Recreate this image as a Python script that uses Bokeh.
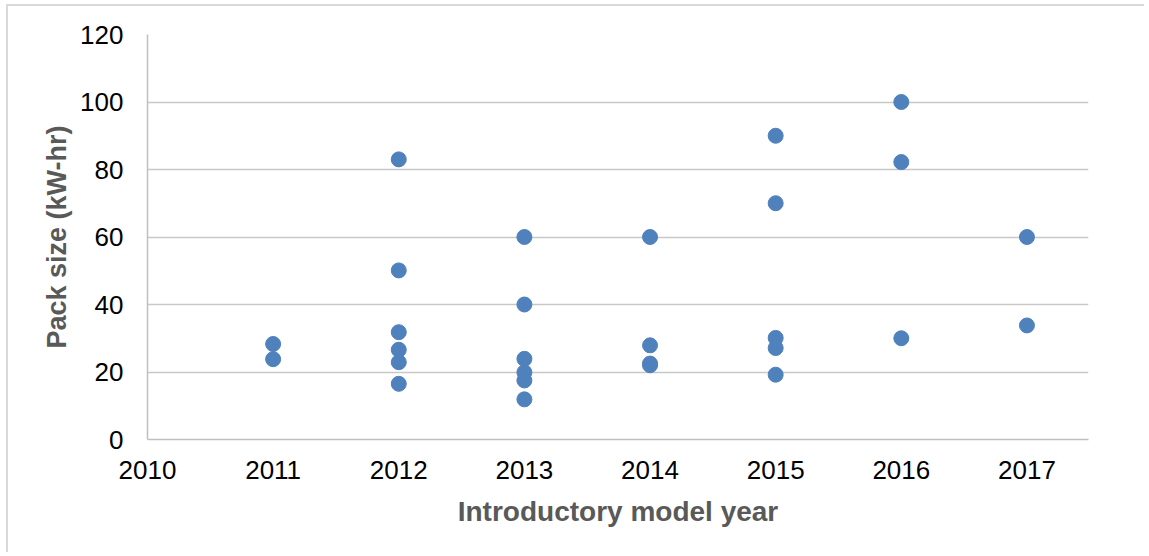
from bokeh.plotting import figure
from bokeh.models import ColumnDataSource, FixedTicker, Range1d
from bokeh.embed import file_html
from bokeh.resources import INLINE

years = [2011, 2011,
         2012, 2012, 2012, 2012, 2012, 2012,
         2013, 2013, 2013, 2013, 2013, 2013,
         2014, 2014, 2014, 2014,
         2015, 2015, 2015, 2015, 2015,
         2016, 2016, 2016,
         2017, 2017]
pack_kwh = [28.3, 23.8,
            83.0, 50.1, 31.8, 26.6, 22.9, 16.5,
            60.0, 40.0, 23.9, 19.9, 17.5, 11.9,
            60.0, 27.9, 22.5, 22.0,
            90.0, 70.0, 30.1, 27.1, 19.2,
            100.0, 82.2, 30.0,
            60.0, 33.8]
x_ticks = [2010, 2011, 2012, 2013, 2014, 2015, 2016, 2017]
y_ticks = [0, 20, 40, 60, 80, 100, 120]

src = ColumnDataSource(dict(year=years, kwh=pack_kwh))

p = figure(width=1138, height=548, output_backend="svg", toolbar_location=None,
           x_range=Range1d(2010, 2017.49), y_range=Range1d(0, 120),
           min_border_left=139, min_border_right=58, min_border_top=28, min_border_bottom=115)
p.margin = (4, 0, 0, 6)
p.styles = {"border-top": "2px solid #d9d9d9", "border-left": "2px solid #d9d9d9"}
p.outline_line_color = None
p.background_fill_color = "white"
p.border_fill_color = "white"

p.scatter("year", "kwh", source=src, size=15, fill_color="#4F81BD", line_color="#4F81BD")

font = "Liberation Sans"
p.xaxis.ticker = FixedTicker(ticks=x_ticks)
p.yaxis.ticker = FixedTicker(ticks=y_ticks)
for ax in (p.xaxis, p.yaxis):
    ax.major_label_text_font = font
    ax.major_label_text_font_size = "26px"
    ax.major_label_text_color = "#000000"
    ax.major_tick_line_color = None
    ax.minor_tick_line_color = None
    ax.axis_line_color = "#bfbfbf"
    ax.axis_line_width = 1.5
    ax.axis_label_text_font = font
    ax.axis_label_text_font_size = "27px"
    ax.axis_label_text_font_style = "bold"
    ax.axis_label_text_color = "#595959"
p.xaxis.axis_label = "Introductory model year"
p.yaxis.axis_label = "Pack size (kW-hr)"
p.xaxis.axis_label_text_font_size = "28px"
p.xaxis.major_label_standoff = 15
p.yaxis.major_label_standoff = 18
p.xaxis.axis_label_standoff = 14
p.yaxis.axis_label_standoff = 5

p.xgrid.grid_line_color = None
p.ygrid.grid_line_color = "#c8c8c8"
p.ygrid.grid_line_width = 1.5

open("out.html", "w").write(file_html(p, INLINE))
